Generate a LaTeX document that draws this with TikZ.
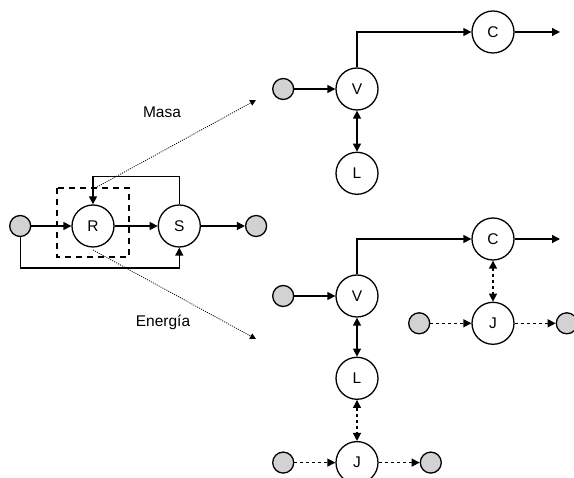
\documentclass[tikz,border=0pt]{standalone}
\usepackage{fontspec}
\setmainfont{Liberation Sans}
\usetikzlibrary{arrows.meta,positioning}
\tikzstyle{wc}=[circle,line width=1.3pt,draw=black,fill=white,minimum size=42pt,inner sep=0pt]
\tikzstyle{gc}=[circle,line width=1.3pt,draw=black,fill=gray!35,minimum size=21pt,inner sep=0pt]
\tikzset{
	fl/.style={line width=1.3pt,-{Triangle[length=8pt,width=8pt]}},
	bfl/.style={line width=1.3pt,{Triangle[length=8pt,width=8pt]}-{Triangle[length=8pt,width=8pt]}},
	dfl/.style={fl,dash pattern=on 3pt off 3pt},
	bdfl/.style={bfl,dash pattern=on 3pt off 3pt},
	zoomln/.style={line width=0.8pt,dash pattern=on 1pt off 1.2pt,-{Triangle[length=6pt,width=6pt]}},
	dbox/.style={line width=1.3pt,dash pattern=on 6pt off 5pt}
}

\begin{document}
\begin{tikzpicture}[x=1pt,y=-1pt,node distance=41pt,font=\fontsize{15.5pt}{18pt}\selectfont]
    \useasboundingbox (0,0) rectangle (574,478);

    % reactor + separator
    \node (R) [wc] at (93,226) {R};
    \node (S) [wc,right=43pt of R] {S};
    \node (in) [gc,left=40pt of R] {};
    \node (out) [gc,right=44pt of S] {};
    \draw[fl] (in) -- (R);
    \draw[fl] (R) -- (S);
    \draw[fl] (S) -- (out);
    \draw[fl] (S.north) -- ++(0,-28) -| (R.north);
    \draw[fl] (in.south) -- ++(0,31) -| (S.south);
    \draw[dbox] (57,188) rectangle (129,257);

    \coordinate (m0) at (97,187);
    \coordinate (m1) at (256,100);
    \coordinate (e0) at (93,250);
    \coordinate (e1) at (256,339);
    \draw[zoomln] (m0) -- (m1);
    \draw[zoomln] (e0) -- (e1);
    \node (masa) at (162,112) {Masa};
    \node (ener) at (163,322) {Energía};

    % mass balance
    \node (mV) [wc] at (357,89) {V};
    \node (mS) [gc,left=of mV] {};
    \node (mL) [wc,below=of mV] {L};
    \node (mC) [wc] at (493,32) {C};
    \coordinate (mO) at (560,32);
    \draw[fl] (mS) -- (mV);
    \draw[fl] (mV.north) |- (mC);
    \draw[fl] (mC) -- (mO);
    \draw[bfl] (mV) -- (mL);

    % energy balance
    \node (eV) [wc] at (357,296) {V};
    \node (eS) [gc,left=of eV] {};
    \node (eL) [wc,below=39pt of eV] {L};
    \node (eJ1) [wc,below=of eL] {J};
    \node (eS1) [gc,left=of eJ1] {};
    \node (eK1) [gc,right=of eJ1] {};
    \node (eC) [wc] at (493,239) {C};
    \node (eJ2) [wc,below=of eC] {J};
    \node (eS2) [gc,left=of eJ2] {};
    \node (eK2) [gc,right=of eJ2] {};
    \coordinate (eO) at (560,239);
    \draw[fl] (eS) -- (eV);
    \draw[fl] (eV.north) |- (eC);
    \draw[fl] (eC) -- (eO);
    \draw[bfl] (eV) -- (eL);
    \draw[bdfl] (eL) -- (eJ1);
    \draw[bdfl] (eC) -- (eJ2);
    \draw[dfl] (eS1) -- (eJ1);
    \draw[dfl] (eJ1) -- (eK1);
    \draw[dfl] (eS2) -- (eJ2);
    \draw[dfl] (eJ2) -- (eK2);
\end{tikzpicture}
\end{document}
